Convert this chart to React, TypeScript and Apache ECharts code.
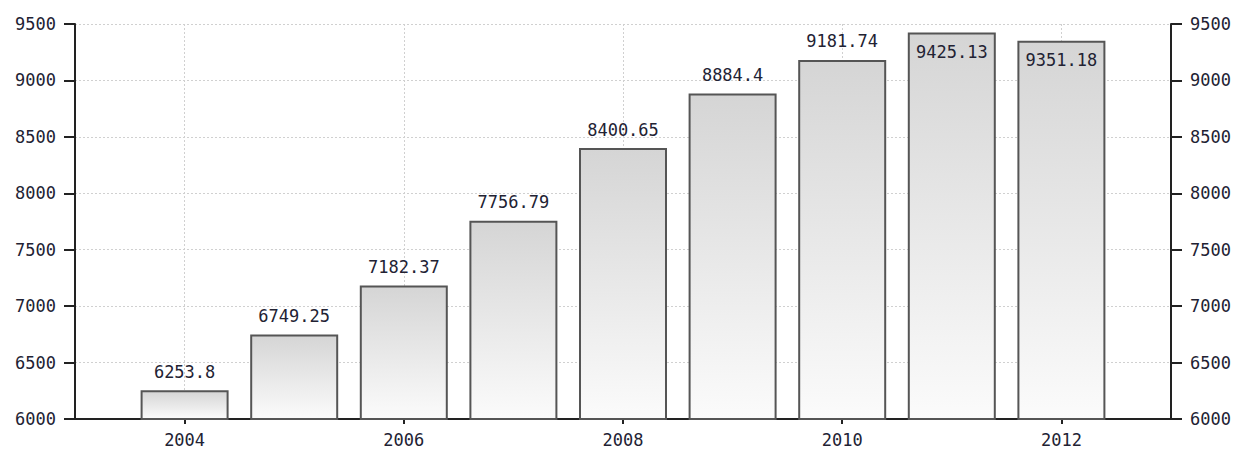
import React, { useEffect, useRef } from "react";
import * as echarts from "echarts";

const years = ["2004", "2005", "2006", "2007", "2008", "2009", "2010", "2011", "2012"];
const values = [6253.8, 6749.25, 7182.37, 7756.79, 8400.65, 8884.4, 9181.74, 9425.13, 9351.18];
const insideLabelYears = ["2011", "2012"];
const yMin = 6000;
const yMax = 9500;
const yStep = 500;

const FONT = "'DejaVu Sans Mono', monospace";
const TEXT = "#222233";
const FS = 17;

export default function App() {
  const ref = useRef<HTMLDivElement>(null);
  useEffect(() => {
    document.body.style.margin = "0";
    const chart = echarts.init(ref.current!, null, { renderer: "svg" });
    const cats = ["2003", ...years, "2013"];
    const data: any[] = ["-"];
    years.forEach((y, i) => {
      const inside = insideLabelYears.includes(y);
      data.push({
        value: values[i],
        label: inside
          ? { position: "insideTop", distance: 11 }
          : { position: "top", distance: 10 },
      });
    });
    data.push("-");
    const isEven = (v: string) => Number(v) % 2 === 0;
    const yAxisBase = {
      type: "value",
      min: yMin,
      max: yMax,
      interval: yStep,
      axisLine: { show: true, lineStyle: { color: "#222", width: 2 } },
      axisTick: { show: true, length: 11, lineStyle: { color: "#222", width: 2 } },
      axisLabel: {
        color: TEXT,
        fontFamily: FONT,
        fontSize: FS,
        margin: 19,
        formatter: (v: number) => String(v),
      },
    };
    chart.setOption({
      animation: false,
      backgroundColor: "#fff",
      grid: { left: 75, right: 65, top: 24, bottom: 31, outerBoundsMode: "none", containLabel: false },
      xAxis: {
        type: "category",
        data: cats,
        boundaryGap: false,
        axisLine: { lineStyle: { color: "#222", width: 2 } },
        axisTick: {
          show: true,
          length: 5,
          interval: (i: number, v: string) => isEven(v),
          lineStyle: { color: "#222", width: 2 },
        },
        axisLabel: {
          interval: (i: number, v: string) => isEven(v),
          color: TEXT,
          fontFamily: FONT,
          fontSize: FS,
          margin: 12,
        },
        splitLine: {
          show: true,
          interval: (i: number, v: string) => isEven(v),
          lineStyle: { color: "#d0d0d0", type: [2, 2], width: 1 },
        },
      },
      yAxis: [
        {
          ...yAxisBase,
          position: "left",
          splitLine: { show: true, lineStyle: { color: "#d0d0d0", type: [2, 2], width: 1 } },
        },
        {
          ...yAxisBase,
          position: "right",
          splitLine: { show: false },
        },
      ],
      series: [
        {
          type: "bar",
          data,
          barWidth: 88,
          itemStyle: {
            color: new echarts.graphic.LinearGradient(0, 0, 0, 1, [
              { offset: 0, color: "#d5d5d5" },
              { offset: 1, color: "#fbfbfb" },
            ]),
            borderColor: "#555",
            borderWidth: 2,
          },
          label: {
            show: true,
            color: TEXT,
            fontFamily: FONT,
            fontSize: FS,
            formatter: (p: any) => String(p.value),
          },
        },
      ],
    });
    return () => chart.dispose();
  }, []);
  return <div ref={ref} style={{ width: 1236, height: 450 }} />;
}
